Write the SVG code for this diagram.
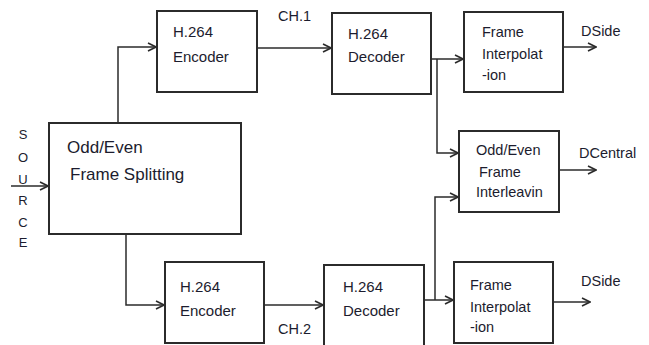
<svg xmlns="http://www.w3.org/2000/svg" width="649" height="345" viewBox="0 0 649 345">
<defs>
<style>
.box{fill:#fff;stroke:#2b2b2b;stroke-width:2}
.t{font-family:"Liberation Sans",Arial,sans-serif;font-size:15px;fill:#1c1c2e}
.s{font-size:14.5px}
.b{font-size:17px}
.src{font-family:"Liberation Sans",Arial,sans-serif;font-size:13px;fill:#1c1c2e;text-anchor:middle}
.c{fill:none;stroke:#2b2b2b;stroke-width:1.5}
</style>
<marker id="ar" viewBox="0 0 10 10" refX="9" refY="5" markerWidth="10" markerHeight="10" markerUnits="userSpaceOnUse" orient="auto">
<path d="M1,1 L9,5 L1,9" fill="none" stroke="#2b2b2b" stroke-width="1.6"/>
</marker>
</defs>
<rect width="649" height="345" fill="#fff"/>
<g id="connectors">
<path class="c" d="M11,186 H48" marker-end="url(#ar)"/>
<path class="c" d="M118,123 V47 H156" marker-end="url(#ar)"/>
<path class="c" d="M126,234 V305 H164" marker-end="url(#ar)"/>
<path class="c" d="M257,48 H331" marker-end="url(#ar)"/>
<path class="c" d="M264,305 H323" marker-end="url(#ar)"/>
<path class="c" d="M431,59 H463" marker-end="url(#ar)"/>
<path class="c" d="M437,59 V153 H458" marker-end="url(#ar)"/>
<path class="c" d="M424,300 H453" marker-end="url(#ar)"/>
<path class="c" d="M435,300 V197 H458" marker-end="url(#ar)"/>
<path class="c" d="M563,47 H596" marker-end="url(#ar)"/>
<path class="c" d="M559,170 H596" marker-end="url(#ar)"/>
<path class="c" d="M553,302 H590" marker-end="url(#ar)"/>
</g>
<g id="source">
<text class="src" x="23" y="139">S</text>
<text class="src" x="23" y="162">O</text>
<text class="src" x="23" y="184">U</text>
<text class="src" x="23" y="205">R</text>
<text class="src" x="23" y="227">C</text>
<text class="src" x="23" y="247">E</text>
</g>
<g id="splitter">
<rect class="box" x="49" y="123" width="192" height="111"/>
<text class="t b" x="67" y="153">Odd/Even</text>
<text class="t b" x="70" y="180">Frame Splitting</text>
</g>
<g id="encoder1">
<rect class="box" x="157" y="11" width="100" height="81"/>
<text class="t" x="173" y="37">H.264</text>
<text class="t" x="173" y="62">Encoder</text>
</g>
<g id="encoder2">
<rect class="box" x="165" y="262" width="99" height="81"/>
<text class="t" x="180" y="292">H.264</text>
<text class="t" x="180" y="316">Encoder</text>
</g>
<g id="decoder1">
<rect class="box" x="332" y="13" width="99" height="81"/>
<text class="t" x="348" y="39">H.264</text>
<text class="t" x="348" y="62">Decoder</text>
</g>
<g id="decoder2">
<rect class="box" x="324" y="265" width="100" height="84"/>
<text class="t" x="343" y="292">H.264</text>
<text class="t" x="343" y="316">Decoder</text>
</g>
<g id="interp1">
<rect class="box" x="464" y="12" width="99" height="80"/>
<text class="t s" x="482" y="37">Frame</text>
<text class="t s" x="482" y="59">Interpolat</text>
<text class="t s" x="482" y="80">-ion</text>
</g>
<g id="interleave">
<rect class="box" x="459" y="131" width="100" height="81"/>
<text class="t s" x="476" y="155">Odd/Even</text>
<text class="t s" x="479" y="177">Frame</text>
<text class="t s" x="476" y="197">Interleavin</text>
</g>
<g id="interp2">
<rect class="box" x="454" y="262" width="99" height="81"/>
<text class="t s" x="470" y="290">Frame</text>
<text class="t s" x="470" y="312">Interpolat</text>
<text class="t s" x="470" y="332">-ion</text>
</g>
<g id="labels">
<text class="t s" x="278" y="21">CH.1</text>
<text class="t s" x="278" y="334">CH.2</text>
<text class="t s" x="581" y="36">DSide</text>
<text class="t s" x="579" y="158">DCentral</text>
<text class="t s" x="581" y="286">DSide</text>
</g>
</svg>
